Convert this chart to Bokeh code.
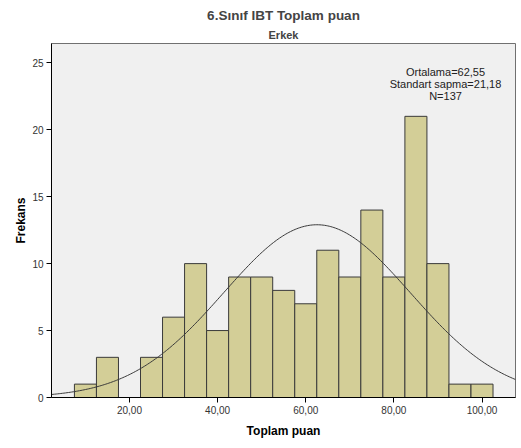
import numpy as np
from bokeh.plotting import figure
from bokeh.models import Range1d, FixedTicker, Title, Label
from bokeh.embed import file_html
from bokeh.resources import INLINE

# Histogram of total scores (bin width 5)
bin_left = [7.5, 12.5, 17.5, 22.5, 27.5, 32.5, 37.5, 42.5, 47.5, 52.5,
            57.5, 62.5, 67.5, 72.5, 77.5, 82.5, 87.5, 92.5, 97.5]
counts = [1, 3, 0, 3, 6, 10, 5, 9, 9, 8, 7, 11, 9, 14, 9, 21, 10, 1, 1]
bin_width = 5.0

mean_val = 62.55
sd_val = 21.18
n_val = 137

x_ticks = [20, 40, 60, 80, 100]
y_ticks = [0, 5, 10, 15, 20, 25]

FONT = "Liberation Sans"

p = figure(width=521, height=448, output_backend="svg", toolbar_location=None,
           x_range=Range1d(2.3, 107.6), y_range=Range1d(0, 26.44),
           min_border_left=51, min_border_right=6, min_border_top=43,
           min_border_bottom=51)

p.border_fill_color = "white"
p.background_fill_color = "#f0f0f0"
p.outline_line_color = "#707070"
p.outline_line_width = 1
p.grid.visible = False

# Bars
nz_left = [l for l, c in zip(bin_left, counts) if c > 0]
nz_counts = [c for c in counts if c > 0]
p.quad(left=nz_left, right=[l + bin_width for l in nz_left], bottom=0, top=nz_counts,
       fill_color="#d3ce97", line_color="#3a3a3a", line_width=1)

# Fitted normal curve scaled to counts
xs = np.linspace(2.3, 107.6, 300)
ys = n_val * bin_width / (sd_val * np.sqrt(2 * np.pi)) * np.exp(-0.5 * ((xs - mean_val) / sd_val) ** 2)
p.line(xs, ys, line_color="#3a3a3a", line_width=1)

# Axes
p.xaxis.ticker = FixedTicker(ticks=x_ticks)
p.xaxis.major_label_overrides = {t: f"{t},00" for t in x_ticks}
p.yaxis.ticker = FixedTicker(ticks=y_ticks)
for ax in (p.xaxis, p.yaxis):
    ax.minor_tick_line_color = None
    ax.major_tick_in = 0
    ax.major_tick_out = 5
    ax.axis_line_color = "black"
    ax.major_tick_line_color = "black"
    ax.major_label_text_font = FONT
    ax.major_label_text_font_size = "10px"
    ax.major_label_text_color = "#333333"
    ax.axis_label_text_font = FONT
    ax.axis_label_text_font_size = "12px"
    ax.axis_label_text_font_style = "bold"
    ax.axis_label_text_color = "black"
p.xaxis.axis_label = "Toplam puan"
p.yaxis.axis_label = "Frekans"
p.xaxis.major_label_standoff = 3
p.yaxis.major_label_standoff = 3
p.xaxis.axis_label_standoff = 7
p.yaxis.axis_label_standoff = 1

# Titles
p.add_layout(Title(text="Erkek", align="center", text_font=FONT, text_font_size="11px",
                   text_font_style="bold", standoff=6), "above")
p.add_layout(Title(text="6.Sınıf IBT Toplam puan", align="center", text_font=FONT,
                   text_font_size="13.5px", text_font_style="bold", standoff=2), "above")

# Summary statistics
stats = [f"Ortalama={mean_val:.2f}".replace(".", ","),
         f"Standart sapma={sd_val:.2f}".replace(".", ","),
         f"N={n_val}"]
for i, s in enumerate(stats):
    p.add_layout(Label(x=445 - 51, y=397 - 71 - i * 12, x_units="screen", y_units="screen",
                       text=s, text_font=FONT, text_font_size="11px", text_color="#222222",
                       text_align="center", text_baseline="middle"))

open("out.html", "w").write(file_html(p, INLINE))
